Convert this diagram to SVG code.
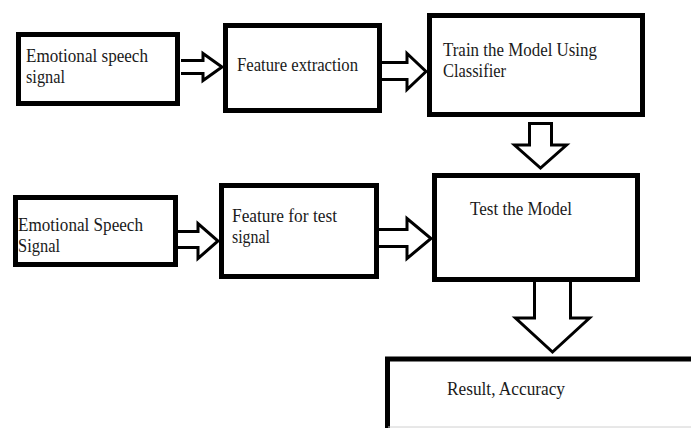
<svg xmlns="http://www.w3.org/2000/svg" width="691" height="428" viewBox="0 0 691 428">
  <style>
    .box { fill: #fff; stroke: #000; stroke-width: 5; }
    .arrow { fill: #fff; stroke: #000; stroke-width: 3; stroke-linejoin: miter; }
    .label { font-family: "Liberation Serif", "Times New Roman", serif; font-size: 18px; fill: #1a1a1a; }
  </style>
  <rect width="691" height="428" fill="#fff"/>

  <!-- block arrows between stages -->
  <g id="connectors">
    <path class="arrow" d="M181,60.5 H203 V53.5 L222,67 L203,80.5 V73.5 H181"/>
    <path class="arrow" d="M382,62.5 H407 V53.5 L426,71.5 L407,89.5 V79.5 H382"/>
    <path class="arrow" d="M178,231.5 H198 V223.5 L218,241 L198,258.5 V247.5 H178"/>
    <path class="arrow" d="M379,229.5 H407 V218.5 L431,238.5 L407,258.5 V246.5 H379"/>
    <path class="arrow" d="M529.5,123.5 H551.5 V145 H566.5 L540.5,168 L514.5,145 H529.5 Z"/>
    <path class="arrow" d="M534.5,282 V318 H515.5 L552.5,352 L589.5,318 H570.5 V282"/>
  </g>

  <g id="node-speech-train">
    <rect class="box" x="18.5" y="34.5" width="159" height="69"/>
    <text class="label" x="26" y="62" textLength="122" lengthAdjust="spacingAndGlyphs">Emotional speech</text>
    <text class="label" x="26" y="83" textLength="39" lengthAdjust="spacingAndGlyphs">signal</text>
  </g>

  <g id="node-feature-extraction">
    <rect class="box" x="225.5" y="25.5" width="154" height="85"/>
    <text class="label" x="237" y="71" textLength="121" lengthAdjust="spacingAndGlyphs">Feature extraction</text>
  </g>

  <g id="node-train">
    <rect class="box" x="429.5" y="15.5" width="213" height="99"/>
    <text class="label" x="443" y="56" textLength="154" lengthAdjust="spacingAndGlyphs">Train the Model Using</text>
    <text class="label" x="443" y="77" textLength="63" lengthAdjust="spacingAndGlyphs">Classifier</text>
  </g>

  <g id="node-speech-test">
    <rect class="box" x="15.5" y="197.5" width="160" height="67"/>
    <text class="label" x="18" y="231" textLength="125" lengthAdjust="spacingAndGlyphs">Emotional Speech</text>
    <text class="label" x="18" y="252" textLength="42" lengthAdjust="spacingAndGlyphs">Signal</text>
  </g>

  <g id="node-feature-test">
    <rect class="box" x="221.5" y="185.5" width="155" height="91"/>
    <text class="label" x="232" y="222" textLength="105" lengthAdjust="spacingAndGlyphs">Feature for test</text>
    <text class="label" x="232" y="243" textLength="38" lengthAdjust="spacingAndGlyphs">signal</text>
  </g>

  <g id="node-test">
    <rect class="box" x="434.5" y="175.5" width="203" height="104"/>
    <text class="label" x="470" y="215" textLength="102" lengthAdjust="spacingAndGlyphs">Test the Model</text>
  </g>

  <g id="node-result">
    <rect x="388" y="359" width="310" height="80" fill="#fff"/>
    <path d="M700,359 H387.5 V432" fill="none" stroke="#000" stroke-width="5"/>
    <line x1="388" y1="427" x2="691" y2="427" stroke="#d0d0d0" stroke-width="1"/>
    <text class="label" x="447" y="395" textLength="118" lengthAdjust="spacingAndGlyphs">Result, Accuracy</text>
  </g>
</svg>
